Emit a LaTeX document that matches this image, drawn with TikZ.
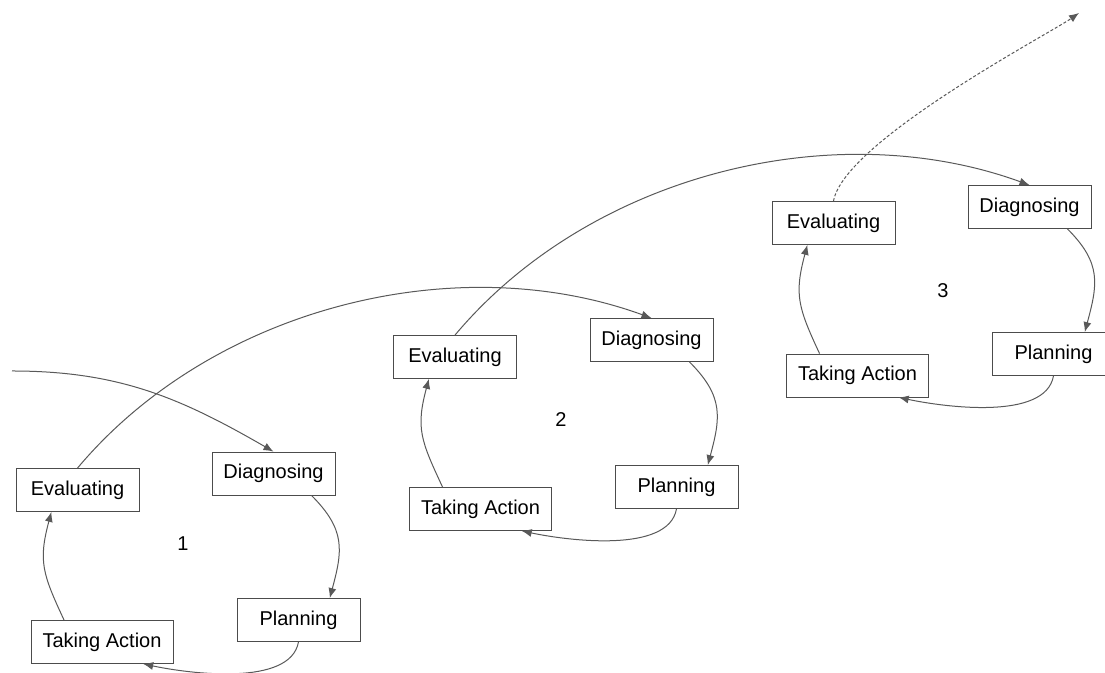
\documentclass[tikz,border=0pt]{standalone}
\usepackage{fontspec}
\setmainfont{Liberation Sans}
\usetikzlibrary{positioning}
\usetikzlibrary{arrows.meta}

\begin{document}
\begin{tikzpicture}[x=0.5pt,y=0.5pt,
	stage/.style={draw=black!70,fill=white,minimum width=61.5pt,
		minimum height=21.5pt,inner sep=0pt,font=\fontsize{10}{12}\selectfont},
	wide/.style={stage,minimum width=71pt},
	flow/.style={draw=black!65,line width=0.5pt,-{Latex[length=5pt,width=4pt]}}]
	\clip (0,0) rectangle (1105,673);
	% cycle 1
	\node[stage] (E1) at (77.5,183) {Evaluating};
	\node[stage] (D1) at (273.5,199.5) {Diagnosing};
	\node[stage] (P1) at (298.5,53) {Planning};
	\node[wide] (T1) at (102,31) {Taking Action};
	\node[font=\fontsize{10}{12}\selectfont] (n1) at (183,129) {1};
	% cycle 2
	\node[stage] (E2) at (455,316) {Evaluating};
	\node[stage] (D2) at (651.5,333) {Diagnosing};
	\node[stage] (P2) at (676.5,186) {Planning};
	\node[wide] (T2) at (480.5,164) {Taking Action};
	\node[font=\fontsize{10}{12}\selectfont] (n2) at (561,253) {2};
	% cycle 3
	\node[stage] (E3) at (833.5,450) {Evaluating};
	\node[stage] (D3) at (1029.5,466) {Diagnosing};
	\node[stage] (P3) at (1053.5,319) {Planning};
	\node[wide] (T3) at (857.5,297.5) {Taking Action};
	\node[font=\fontsize{10}{12}\selectfont] (n3) at (943,382) {3};
	\coordinate (in) at (12,302);
	\coordinate (out) at (1079,660);

	\draw[flow] (in) to[out=0,in=150] (D1.north);
	\draw[flow] (D1.-30) to[out=-45,in=75,looseness=1.2] (P1.35);
	\draw[flow] (P1.south) to[out=-100,in=-12,looseness=0.75] (T1.-28);
	\draw[flow] (T1.150) to[out=115,in=-105,looseness=1.2] (E1.220);
	\draw[flow] (E1.north) to[out=50,in=160,looseness=0.9] (D2.north);
	\draw[flow] (D2.-30) to[out=-45,in=75,looseness=1.2] (P2.35);
	\draw[flow] (P2.south) to[out=-100,in=-12,looseness=0.75] (T2.-28);
	\draw[flow] (T2.150) to[out=115,in=-105,looseness=1.2] (E2.220);
	\draw[flow] (E2.north) to[out=50,in=160,looseness=0.9] (D3.north);
	\draw[flow] (D3.-30) to[out=-45,in=75,looseness=1.2] (P3.35);
	\draw[flow] (P3.south) to[out=-100,in=-12,looseness=0.75] (T3.-28);
	\draw[flow] (T3.150) to[out=115,in=-105,looseness=1.2] (E3.220);
	\draw[flow,dash pattern=on 1.5pt off 1pt] (E3.north)
		to[out=80,in=215,out looseness=0.5,in looseness=0.3] (out);
\end{tikzpicture}
\end{document}
